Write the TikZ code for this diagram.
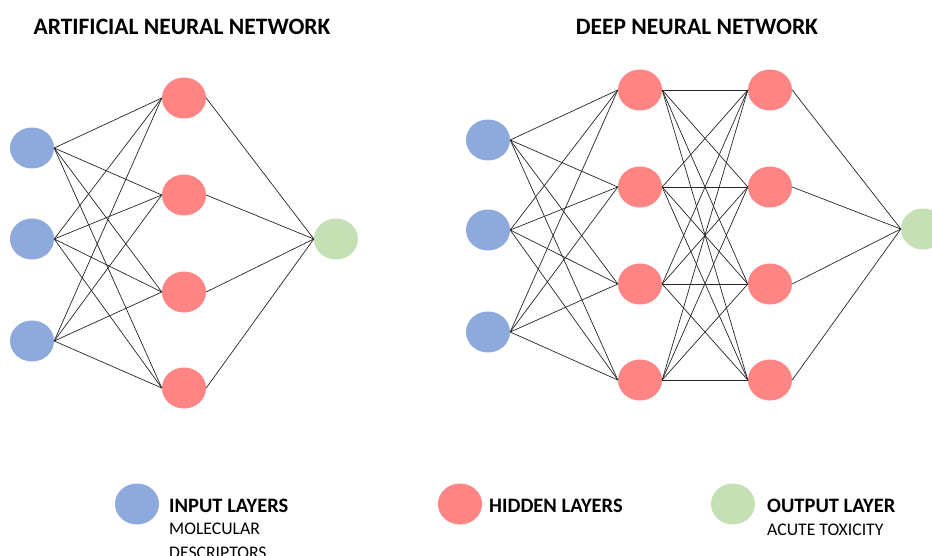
\documentclass[tikz,border=0pt]{standalone}
\usepackage{fontspec}
\setmainfont{Carlito}
\usetikzlibrary{shapes.geometric,positioning}
\definecolor{inblue}{HTML}{8EA9DB}
\definecolor{hidred}{HTML}{FF8585}
\definecolor{outgreen}{HTML}{C5E0B4}

\begin{document}
\begin{tikzpicture}[
    x=1pt, y=-1pt,
    neuron/.style={ellipse, minimum width=44pt, minimum height=41pt, inner sep=0pt},
    inp/.style={neuron, fill=inblue},
    hid/.style={neuron, fill=hidred},
    outp/.style={neuron, fill=outgreen},
    wire/.style={draw=black!85, line width=0.7pt},
    title/.style={font=\fontsize{23.5}{26}\selectfont\bfseries, inner sep=0pt},
    leglbl/.style={font=\fontsize{20.5}{24}\selectfont\bfseries, inner sep=0pt, anchor=base west},
    legsub/.style={font=\fontsize{17.7}{23.5}\selectfont, inner sep=0pt, align=left, anchor=north west},
  ]
    \useasboundingbox[fill=white] (0,0) rectangle (932,556);

    % titles
    \node[title] (t1) at (182,27) {ARTIFICIAL NEURAL NETWORK};
    \node[title] (t2) at (697,27) {DEEP NEURAL NETWORK};

    % artificial neural network
    \node[inp] (ai1) at (32,148) {};
    \node[inp] (ai2) at (32,239) {};
    \node[inp] (ai3) at (32,341) {};
    \node[hid] (ah1) at (184,98) {};
    \node[hid] (ah2) at (184,195) {};
    \node[hid] (ah3) at (184,292) {};
    \node[hid] (ah4) at (184,388) {};
    \node[outp] (ao) at (336,239) {};
    \foreach \i in {1,2,3}
      \foreach \j in {1,...,4}
        \draw[wire] (ai\i.east) -- (ah\j.west);
    \foreach \j in {1,...,4}
      \draw[wire] (ah\j.east) -- (ao.west);

    % deep neural network
    \node[inp] (di1) at (488,140) {};
    \node[inp] (di2) at (488,230) {};
    \node[inp] (di3) at (488,332) {};
    \node[hid] (dh1) at (640,90) {};
    \node[hid] (dh2) at (640,187) {};
    \node[hid] (dh3) at (640,284) {};
    \node[hid] (dh4) at (640,380) {};
    \node[hid] (dk1) at (770,90) {};
    \node[hid] (dk2) at (770,187) {};
    \node[hid] (dk3) at (770,284) {};
    \node[hid] (dk4) at (770,380) {};
    \node[outp] (do) at (923,229) {};
    \foreach \i in {1,2,3}
      \foreach \j in {1,...,4}
        \draw[wire] (di\i.east) -- (dh\j.west);
    \foreach \i in {1,...,4}
      \foreach \j in {1,...,4}
        \draw[wire] (dh\i.east) -- (dk\j.west);
    \foreach \j in {1,...,4}
      \draw[wire] (dk\j.east) -- (do.west);

    % legend
    \node[inp] (lin) at (137,504) {};
    \node[leglbl] (linl) at (169,512) {INPUT LAYERS};
    \node[legsub] (lins) at (169,523) {MOLECULAR\\DESCRIPTORS};
    \node[hid] (lhid) at (460,504) {};
    \node[leglbl] (lhidl) at (489,512) {HIDDEN LAYERS};
    \node[outp] (lout) at (733,504) {};
    \node[leglbl] (loutl) at (767,512) {OUTPUT LAYER};
    \node[legsub] (louts) at (767,524) {ACUTE TOXICITY};
  \end{tikzpicture}
\end{document}
